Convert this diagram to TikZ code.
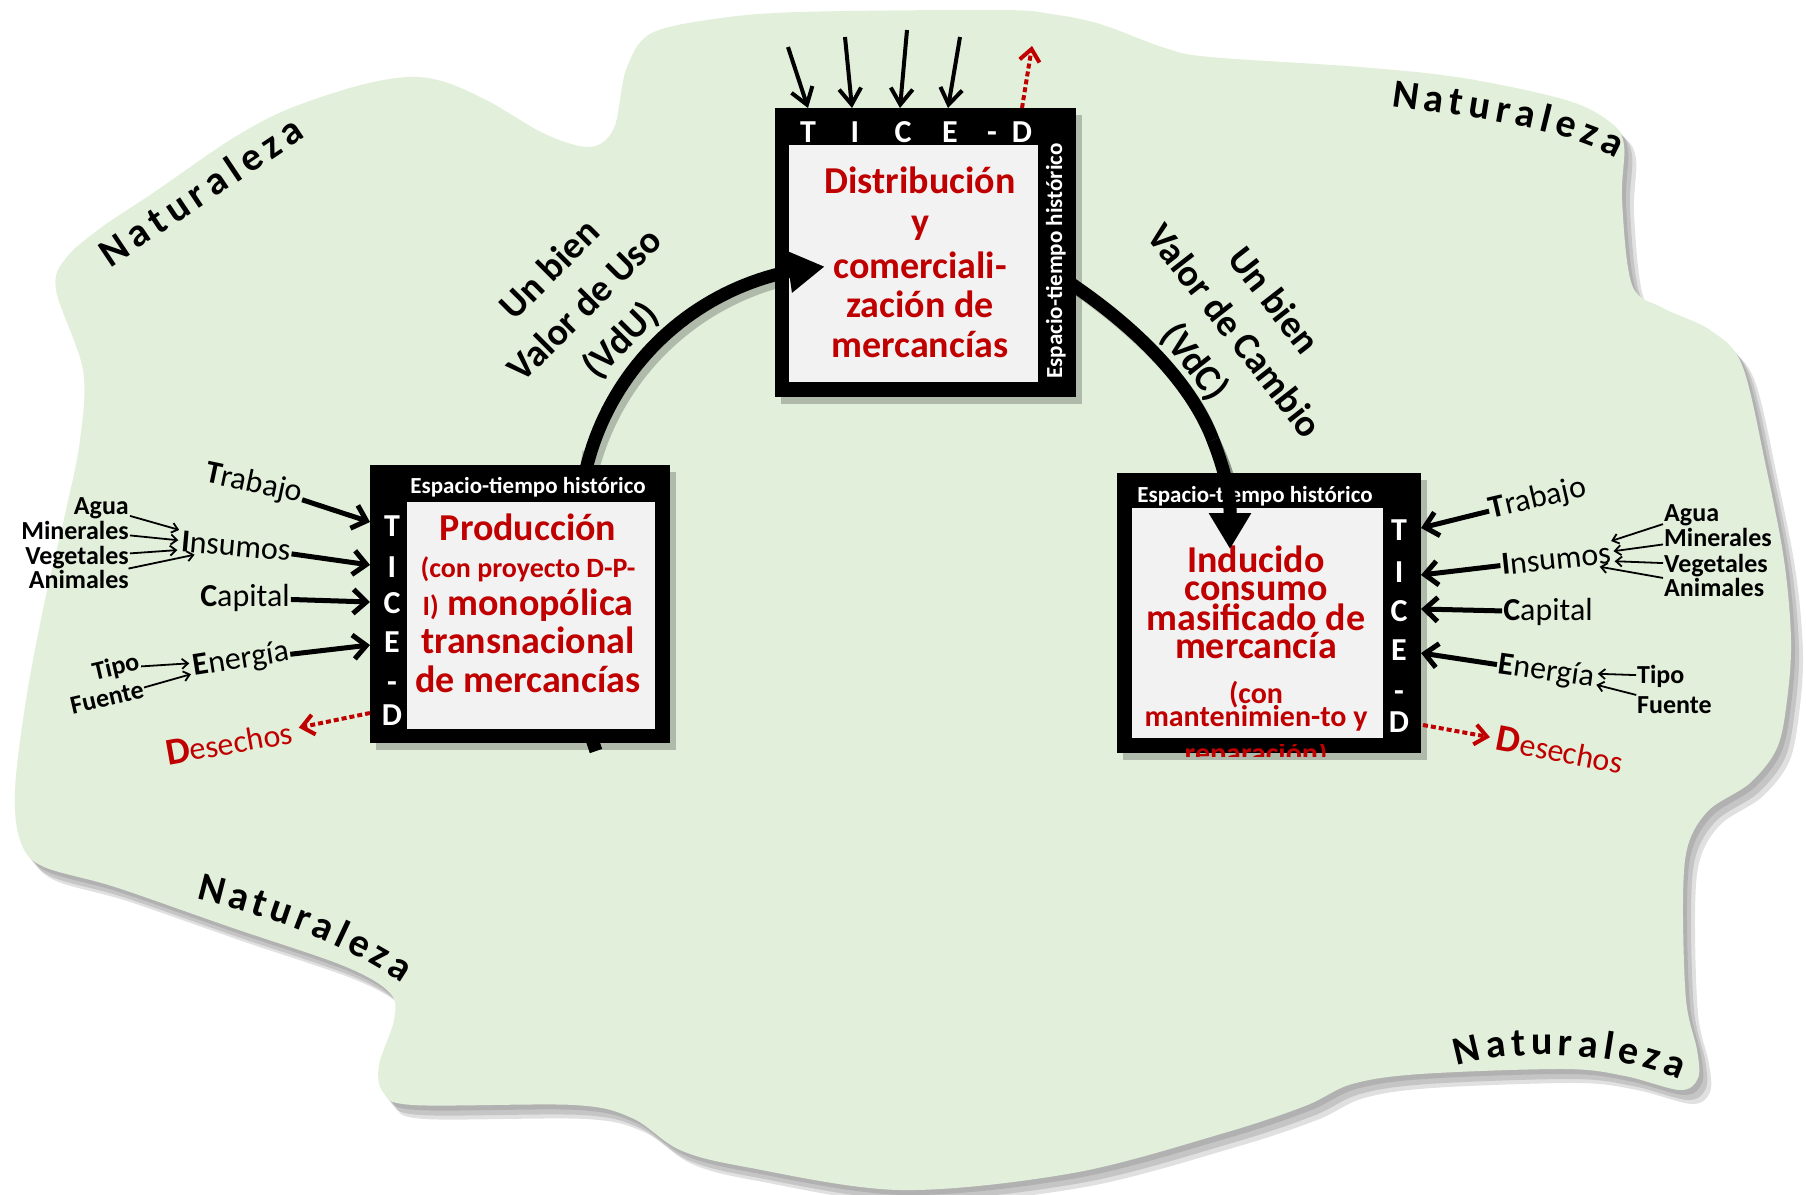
\documentclass[tikz,border=0pt]{standalone}
\usepackage{fontspec}
\setmainfont{Carlito}
\usetikzlibrary{arrows.meta,decorations.text}
\definecolor{natgreen}{HTML}{E2EFDA}
\definecolor{dred}{HTML}{C00000}
\definecolor{boxgray}{HTML}{F2F2F2}
\newcommand\myfs[2]{\fontsize{#1}{#2}\selectfont}
\newcommand\natfont{\bfseries\myfs{40}{40}}
\newcommand\blobfill[1]{\fill[#1] plot[smooth cycle, tension=0.55] coordinates {
(56,290) (66,258) (102,227) (153,193) (230,140) (286,110) (357,86) (408,77) (445,82) (490,102) (545,134) (590,147) (614,128) (626,70) (650,34) (714,19) (800,12) (1000,10) (1051,14) (1100,24) (1165,48) (1210,57) (1360,67) (1463,78) (1566,100) (1610,122) (1624,145) (1622,200) (1632,285) (1663,308) (1710,330) (1742,365) (1766,467) (1784,560) (1791,640) (1787,700) (1777,748) (1750,783) (1709,810) (1688,845) (1683,900) (1686,1000) (1697,1050) (1698,1078) (1680,1090) (1625,1076) (1565,1069) (1420,1074) (1352,1084) (1305,1106) (1224,1133) (1073,1173) (900,1190) (746,1167) (680,1150) (632,1118) (574,1105) (413,1105) (383,1092) (379,1065) (394,1020) (390,993) (344,966) (230,927) (115,887) (42,866) (20,840) (15,790) (26,700) (45,600) (66,510) (80,440) (83,370)};}
\begin{document}
\begin{tikzpicture}[x=1pt,y=-1pt,
  blk/.style={fill=black, inner sep=0pt, outer sep=0pt},
  inb/.style={fill=boxgray, inner sep=0pt, outer sep=0pt},
  rline/.style={text=dred, font=\bfseries\myfs{38}{38}, inner sep=0pt, anchor=base},
  rsmall/.style={text=dred, font=\bfseries\myfs{30}{30}, inner sep=0pt, anchor=base},
  acr/.style={text=white, font=\bfseries\myfs{32}{32}, inner sep=0pt, anchor=base},
  esp/.style={text=white, font=\bfseries\myfs{23}{23}, inner sep=0pt, anchor=base},
  lab/.style={font=\myfs{32}{32}, inner sep=1pt},
  sublab/.style={font=\bfseries\myfs{26}{26}, inner sep=1pt},
  waste/.style={text=dred, font=\myfs{32}{32}, inner sep=1pt},
  inarr/.style={line width=5pt, -{Straight Barb[length=13pt,width=24pt]}},
  toparr/.style={line width=4pt, -{Straight Barb[length=16pt,width=22pt]}},
  thinarr/.style={line width=1.8pt, -{Straight Barb[length=6pt,width=10pt]}, shorten >=2pt},
  wastearr/.style={dred, line width=4pt, dash pattern=on 5pt off 3pt, -{Straight Barb[length=12pt,width=20pt]}},
  cyc/.style={line width=13pt},
  cyctip/.style={line width=13pt, -{Triangle[length=36pt,width=40pt]}},
  shad/.style={black, opacity=0.22},
  valtxt/.style={font=\bfseries\myfs{38}{50}, align=center, inner sep=0pt},
]
\useasboundingbox (0,0) rectangle (1806,1194);

% ---------- Naturaleza region ----------
\blobfill{black, opacity=0.10, shift={(4,5)}}
\blobfill{black, opacity=0.12, shift={(8,10)}}
\blobfill{black, opacity=0.12, shift={(12,14)}}
\blobfill{natgreen}

% ---------- cycle arcs (under the boxes) ----------
\coordinate (la0) at (596,751);
\coordinate (la1) at (587,466);
\coordinate (la3) at (788.1,271.8);
\coordinate (latip) at (824.6,266.6);
\coordinate (ra0) at (1050,270);
\coordinate (ra1) at (1213,440);
\coordinate (ra2) at (1230,509);
\coordinate (ratip) at (1230,549);

\draw[cyc, shad, shift={(5,6)}] (la0) .. controls (560,650) and (574,518) .. (la1) -- plot[domain=194:258, samples=40] ({843+264*cos(\x)},{530+264*sin(\x)});
\draw[cyc, shad, shift={(5,6)}] (ra0) .. controls (1130,320) and (1190,380) .. (ra1) .. controls (1223,466) and (1229,488) .. (ra2);
\draw[cyc] (la0) .. controls (560,650) and (574,518) .. (la1) -- plot[domain=194:258, samples=40] ({843+264*cos(\x)},{530+264*sin(\x)});
\draw[cyc] (ra0) .. controls (1130,320) and (1190,380) .. (ra1);

% ---------- boxes ----------
\node[blk, minimum width=300pt, minimum height=278pt] (prod) at (520,604) {};
\node[blk, minimum width=301pt, minimum height=289pt] (dist) at (925.5,252.5) {};
\node[blk, minimum width=304pt, minimum height=280pt] (cons) at (1269,613) {};
\fill[shad] ([shift={(6,7)}]prod.north west) rectangle ([shift={(6,7)}]prod.south east);
\fill[shad] ([shift={(6,7)}]dist.north west) rectangle ([shift={(6,7)}]dist.south east);
\fill[shad] ([shift={(6,7)}]cons.north west) rectangle ([shift={(6,7)}]cons.south east);
\fill[black] (prod.north west) rectangle (prod.south east);
\fill[black] (dist.north west) rectangle (dist.south east);
\fill[black] (cons.north west) rectangle (cons.south east);
\node[inb, minimum width=248pt, minimum height=227pt] (prodin) at (531,615.5) {};
\node[inb, minimum width=249pt, minimum height=237pt] (distin) at (913.5,263.5) {};
\node[inb, minimum width=251pt, minimum height=230pt] (consin) at (1257.5,623) {};

% ---------- production box texts ----------
\node[esp] (pesp) at (528,493) {Espacio-tiempo histórico};
\node[rline] (p1) at (528,540) {Producción};
\node[rline, font=\bfseries\myfs{28}{28}] (p2) at (528,577) {(con proyecto D-P-};
\node[rline] (p3) at (528,615) {{\myfs{28}{28}I)} monopólica};
\node[rline] (p4) at (528,653) {transnacional};
\node[rline] (p5) at (528,692) {de mercancías};
\node[acr] (pT) at (392,536) {T};
\node[acr] (pI) at (392,577) {I};
\node[acr] (pC) at (392,613) {C};
\node[acr] (pE) at (392,652) {E};
\node[acr] (pH) at (392,692) {-};
\node[acr] (pDd) at (392,725) {D};

% ---------- distribution box texts ----------
\node[esp, rotate=90] (desp) at (1062,261) {Espacio-tiempo histórico};
\node[rline] (d1) at (920,193) {Distribución};
\node[rline] (d2) at (920,234) {y};
\node[rline] (d3) at (920,278) {comerciali-};
\node[rline] (d4) at (920,317) {zación de};
\node[rline] (d5) at (920,357) {mercancías};
\node[acr] (dT) at (808,142) {T};
\node[acr] (dI) at (855,142) {I};
\node[acr] (dC) at (903,142) {C};
\node[acr] (dE) at (950,142) {E};
\node[acr] (dH) at (992,142) {-};
\node[acr] (dDd) at (1022,142) {D};

% ---------- consumption box texts ----------
\node[esp] (cesp) at (1255,502) {Espacio-tiempo histórico};
\node[rline] (c1) at (1256,572) {Inducido};
\node[rline] (c2) at (1256,600) {consumo};
\node[rline] (c3) at (1256,630) {masificado de};
\node[rline] (c4) at (1256,658) {mercancía};
\node[rsmall] (c5) at (1256,703) {(con};
\node[rsmall] (c6) at (1256,726) {mantenimien-to y};
\begin{scope}
\clip (1135,744) rectangle (1385,756);
\node[rsmall] (c7) at (1256,763) {reparación)};
\end{scope}
\node[acr] (cT) at (1399,540) {T};
\node[acr] (cI) at (1399,582) {I};
\node[acr] (cC) at (1399,621) {C};
\node[acr] (cE) at (1399,660) {E};
\node[acr] (cH) at (1399,701) {-};
\node[acr] (cDd) at (1399,732) {D};

% ---------- cycle arrow heads (over the boxes) ----------
\draw[cyctip, shad, shift={(5,6)}] (la3) -- (latip);
\draw[cyctip] (la3) -- (latip);
\draw[cyctip, shad, shift={(5,6)}] (ra1) .. controls (1223,466) and (1229,488) .. (ra2) -- (ratip);
\draw[cyctip] (ra1) .. controls (1223,466) and (1229,488) .. (ra2) -- (ratip);

% ---------- inputs to distribution ----------
\coordinate (ts1) at (788,47);  \coordinate (te1) at (808,108);
\coordinate (ts2) at (845,37);  \coordinate (te2) at (852,108);
\coordinate (ts3) at (907,30);  \coordinate (te3) at (900,108);
\coordinate (ts4) at (960,37);  \coordinate (te4) at (948,108);
\coordinate (tws) at (1022,108); \coordinate (twe) at (1032,46);
\draw[toparr] (ts1) -- (te1);
\draw[toparr] (ts2) -- (te2);
\draw[toparr] (ts3) -- (te3);
\draw[toparr] (ts4) -- (te4);
\draw[wastearr] (tws) -- (twe);

% ---------- left side (production) ----------
\node[lab, rotate=-12] (trabL) at (254,484) {\textbf{T}rabajo};
\node[lab, rotate=-5] (insL) at (236,546) {\textbf{I}nsumos};
\node[lab] (capL) at (245,598) {\textbf{C}apital};
\node[lab, rotate=9] (eneL) at (241,660) {\textbf{E}nergía};
\node[waste, rotate=10] (desL) at (229,742) {{\bfseries\myfs{38}{38}D}esechos};
\node[sublab, anchor=base east] (aguaL) at (130,514) {Agua};
\node[sublab, anchor=base east] (minL) at (130,539) {Minerales};
\node[sublab, anchor=base east] (vegL) at (130,564) {Vegetales};
\node[sublab, anchor=base east] (aniL) at (130,588) {Animales};
\node[sublab, rotate=13] (tipoL) at (116,668) {Tipo};
\node[sublab, rotate=13] (fuenL) at (107,698) {Fuente};

\coordinate (qLT) at (370,522);
\coordinate (qLI) at (370,565);
\coordinate (qLC) at (370,602);
\coordinate (qLE) at (370,645);
\coordinate (qLD) at (370,713);
\draw[inarr] (trabL) -- (qLT);
\draw[inarr] (insL) -- (qLI);
\draw[inarr] (capL) -- (qLC);
\draw[inarr] (eneL) -- (qLE);
\draw[wastearr, shorten >=6pt] (qLD) -- (desL);
\draw[thinarr] (aguaL) -- (insL);
\draw[thinarr] (minL) -- (insL);
\draw[thinarr] (vegL) -- (insL);
\draw[thinarr] (aniL) -- (insL);
\draw[thinarr] (tipoL) -- (eneL);
\draw[thinarr] (fuenL) -- (eneL);

% ---------- right side (consumption) ----------
\node[lab, rotate=13] (trabR) at (1538,499) {\textbf{T}rabajo};
\node[lab, rotate=6] (insR) at (1556,559) {\textbf{I}nsumos};
\node[lab] (capR) at (1548,612) {\textbf{C}apital};
\node[lab, rotate=-8] (eneR) at (1546,672) {\textbf{E}nergía};
\node[waste, rotate=-11] (desR) at (1560,750) {{\bfseries\myfs{38}{38}D}esechos};
\node[sublab, anchor=base west] (aguaR) at (1663,521) {Agua};
\node[sublab, anchor=base west] (minR) at (1663,546) {Minerales};
\node[sublab, anchor=base west] (vegR) at (1663,572) {Vegetales};
\node[sublab, anchor=base west] (aniR) at (1663,596) {Animales};
\node[sublab, anchor=base west] (tipoR) at (1636,683) {Tipo};
\node[sublab, anchor=base west] (fuenR) at (1636,713) {Fuente};

\coordinate (qRT) at (1421,528);
\coordinate (qRI) at (1421,575);
\coordinate (qRC) at (1421,609);
\coordinate (qRE) at (1421,653);
\coordinate (qRD) at (1423,725);
\draw[inarr] (trabR) -- (qRT);
\draw[inarr] (insR) -- (qRI);
\draw[inarr] (capR) -- (qRC);
\draw[inarr] (eneR) -- (qRE);
\draw[wastearr, shorten >=6pt] (qRD) -- (desR);
\draw[thinarr] (aguaR) -- (insR);
\draw[thinarr] (minR) -- (insR);
\draw[thinarr] (vegR) -- (insR);
\draw[thinarr] (aniR) -- (insR);
\draw[thinarr] (tipoR) -- (eneR);
\draw[thinarr] (fuenR) -- (eneR);

% ---------- value labels ----------
\node[valtxt, rotate=45] (vdu) at (586,306) {Un bien\\Valor de Uso\\(VdU)};
\node[valtxt, rotate=-52] (vdc) at (1233,332) {Un bien\\Valor de Cambio\\(VdC)};

% ---------- Naturaleza ----------
\path[decorate, decoration={text along path, text={|\natfont|Naturaleza}, text align={fit to path}}] (110,268) -- (306,137);
\path[decorate, decoration={text along path, text={|\natfont|Naturaleza}, text align={fit to path}}] (1391,106) .. controls (1460,116) and (1560,126) .. (1616,158);
\path[decorate, decoration={text along path, text={|\natfont|Naturaleza}, text align={fit to path}}] (196,899) .. controls (260,915) and (330,935) .. (402,983);
\path[decorate, decoration={text along path, text={|\natfont|Naturaleza}, text align={fit to path}}] (1457,1066) .. controls (1500,1052) and (1600,1046) .. (1680,1080);
\end{tikzpicture}
\end{document}
